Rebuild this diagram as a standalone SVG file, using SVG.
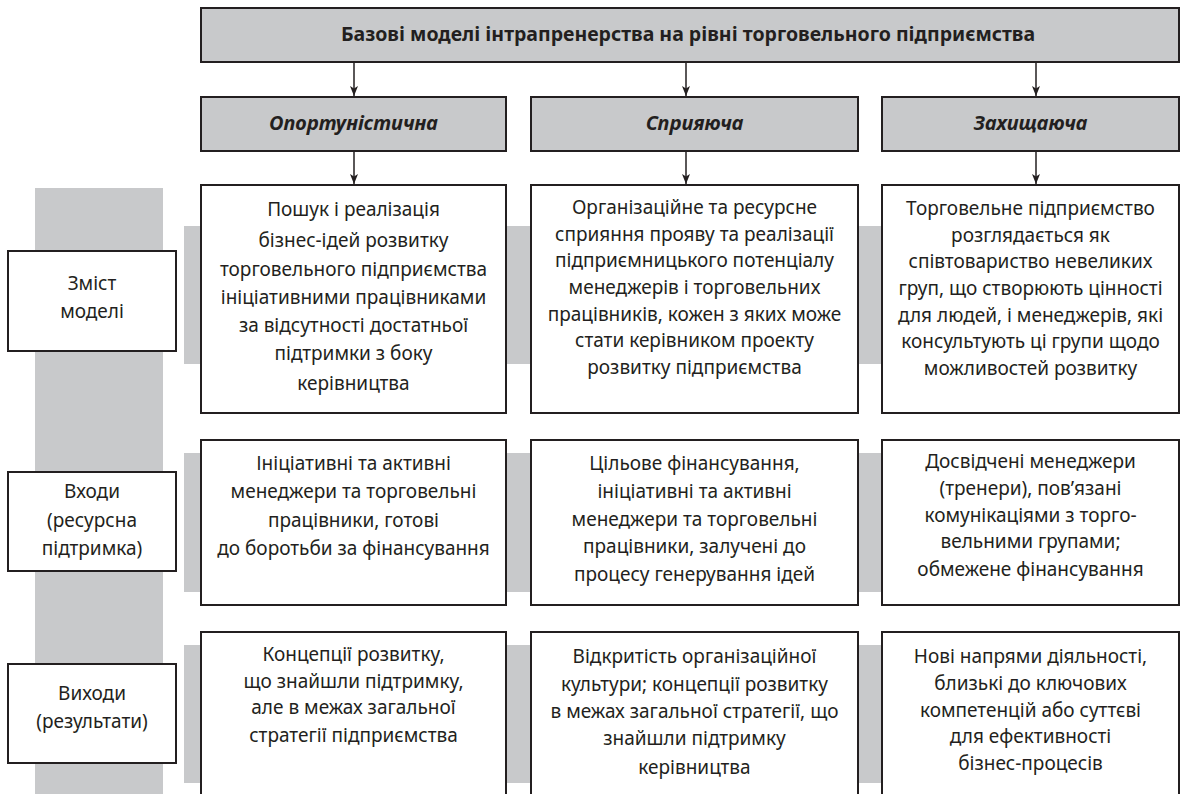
<svg xmlns="http://www.w3.org/2000/svg" width="1180" height="794" viewBox="0 0 1180 794">
  <defs>
    <marker id="arrow" viewBox="0 0 10 8" refX="10" refY="4" markerWidth="10" markerHeight="8" markerUnits="userSpaceOnUse" orient="auto">
      <path d="M0,0 L10,4 L0,8 L2.5,4 Z" fill="#231f20"/>
    </marker>
    <style>
      .box { fill: #ffffff; stroke: #231f20; stroke-width: 2; }
      .hdr { fill: #c8c9cb; stroke: #231f20; stroke-width: 2; }
      .band { fill: #c8c9cb; }
      .txt { font-family: "Noto Sans", "Open Sans", sans-serif; font-size: 19px; fill: #231f20; text-anchor: middle; }
      .title { font-family: "Noto Sans", "Open Sans", sans-serif; font-size: 19.5px; font-weight: bold; fill: #231f20; text-anchor: middle; }
      .col { font-family: "Noto Sans", "Open Sans", sans-serif; font-size: 20px; font-weight: bold; font-style: italic; fill: #231f20; text-anchor: middle; }
      .conn { stroke: #231f20; stroke-width: 1.5; fill: none; marker-end: url(#arrow); }
    </style>
  </defs>

  <!-- background bands -->
  <g id="bands">
    <rect class="band" x="35" y="188" width="128" height="610"/>
    <rect class="band" x="184" y="226" width="996" height="138"/>
    <rect class="band" x="184" y="453" width="996" height="139"/>
    <rect class="band" x="184" y="645" width="996" height="138"/>
  </g>

  <!-- connectors -->
  <g id="connectors">
    <line class="conn" x1="354" y1="62" x2="354" y2="96"/>
    <line class="conn" x1="686" y1="62" x2="686" y2="96"/>
    <line class="conn" x1="1036" y1="62" x2="1036" y2="96"/>
    <line class="conn" x1="354" y1="151" x2="354" y2="184"/>
    <line class="conn" x1="686" y1="151" x2="686" y2="184"/>
    <line class="conn" x1="1036" y1="151" x2="1036" y2="184"/>
  </g>

  <!-- title -->
  <g id="title">
    <rect class="hdr" x="201" y="8" width="978" height="54"/>
    <text class="title" x="688" y="41">Базові моделі інтрапренерства на рівні торговельного підприємства</text>
  </g>

  <!-- model columns -->
  <g id="col-opportunistic">
    <rect class="hdr" x="201" y="97" width="305" height="54"/>
    <text class="col" x="353.5" y="130">Опортуністична</text>
  </g>
  <g id="col-supporting">
    <rect class="hdr" x="531" y="97" width="327" height="54"/>
    <text class="col" x="694.5" y="130">Сприяюча</text>
  </g>
  <g id="col-protecting">
    <rect class="hdr" x="882" y="97" width="297" height="54"/>
    <text class="col" x="1030.5" y="130">Захищаюча</text>
  </g>

  <!-- row labels -->
  <g id="label-content">
    <rect class="box" x="8" y="251" width="168" height="100"/>
    <text class="txt" x="92" y="290">Зміст</text>
    <text class="txt" x="92" y="318">моделі</text>
  </g>
  <g id="label-inputs">
    <rect class="box" x="8" y="472" width="168" height="99"/>
    <text class="txt" x="92" y="498">Входи</text>
    <text class="txt" x="92" y="527">(ресурсна</text>
    <text class="txt" x="92" y="555">підтримка)</text>
  </g>
  <g id="label-outputs">
    <rect class="box" x="8" y="664" width="168" height="99"/>
    <text class="txt" x="92" y="700">Виходи</text>
    <text class="txt" x="92" y="728">(результати)</text>
  </g>

  <!-- row 1: content -->
  <g id="c1-content">
    <rect class="box" x="201" y="185" width="305" height="228"/>
    <text class="txt" x="353.5" y="216">Пошук і реалізація</text>
    <text class="txt" x="353.5" y="247">бізнес-ідей розвитку</text>
    <text class="txt" x="353.5" y="276">торговельного підприємства</text>
    <text class="txt" x="353.5" y="304">ініціативними працівниками</text>
    <text class="txt" x="353.5" y="332">за відсутності достатньої</text>
    <text class="txt" x="353.5" y="360">підтримки з боку</text>
    <text class="txt" x="353.5" y="390">керівництва</text>
  </g>
  <g id="c2-content">
    <rect class="box" x="531" y="185" width="327" height="228"/>
    <text class="txt" x="694.5" y="214">Організаційне та ресурсне</text>
    <text class="txt" x="694.5" y="241">сприяння прояву та реалізації</text>
    <text class="txt" x="694.5" y="267">підприємницького потенціалу</text>
    <text class="txt" x="694.5" y="294">менеджерів і торговельних</text>
    <text class="txt" x="694.5" y="321">працівників, кожен з яких може</text>
    <text class="txt" x="694.5" y="347">стати керівником проекту</text>
    <text class="txt" x="694.5" y="374">розвитку підприємства</text>
  </g>
  <g id="c3-content">
    <rect class="box" x="882" y="185" width="297" height="228"/>
    <text class="txt" x="1030.5" y="215">Торговельне підприємство</text>
    <text class="txt" x="1030.5" y="242">розглядається як</text>
    <text class="txt" x="1030.5" y="268">співтовариство невеликих</text>
    <text class="txt" x="1030.5" y="295">груп, що створюють цінності</text>
    <text class="txt" x="1030.5" y="322">для людей, і менеджерів, які</text>
    <text class="txt" x="1030.5" y="348">консультують ці групи щодо</text>
    <text class="txt" x="1030.5" y="375">можливостей розвитку</text>
  </g>

  <!-- row 2: inputs -->
  <g id="c1-inputs">
    <rect class="box" x="201" y="440" width="305" height="165"/>
    <text class="txt" x="353.5" y="470">Ініціативні та активні</text>
    <text class="txt" x="353.5" y="498">менеджери та торговельні</text>
    <text class="txt" x="353.5" y="527">працівники, готові</text>
    <text class="txt" x="353.5" y="555">до боротьби за фінансування</text>
  </g>
  <g id="c2-inputs">
    <rect class="box" x="531" y="440" width="327" height="165"/>
    <text class="txt" x="694.5" y="470">Цільове фінансування,</text>
    <text class="txt" x="694.5" y="498">ініціативні та активні</text>
    <text class="txt" x="694.5" y="526">менеджери та торговельні</text>
    <text class="txt" x="694.5" y="553">працівники, залучені до</text>
    <text class="txt" x="694.5" y="581">процесу генерування ідей</text>
  </g>
  <g id="c3-inputs">
    <rect class="box" x="882" y="440" width="297" height="165"/>
    <text class="txt" x="1030.5" y="468">Досвідчені менеджери</text>
    <text class="txt" x="1030.5" y="495">(тренери), пов’язані</text>
    <text class="txt" x="1030.5" y="522">комунікаціями з торго-</text>
    <text class="txt" x="1030.5" y="548">вельними групами;</text>
    <text class="txt" x="1030.5" y="576">обмежене фінансування</text>
  </g>

  <!-- row 3: outputs -->
  <g id="c1-outputs">
    <rect class="box" x="201" y="632" width="305" height="170"/>
    <text class="txt" x="353.5" y="661">Концепції розвитку,</text>
    <text class="txt" x="353.5" y="688">що знайшли підтримку,</text>
    <text class="txt" x="353.5" y="714">але в межах загальної</text>
    <text class="txt" x="353.5" y="742">стратегії підприємства</text>
  </g>
  <g id="c2-outputs">
    <rect class="box" x="531" y="632" width="327" height="170"/>
    <text class="txt" x="694.5" y="663">Відкритість організаційної</text>
    <text class="txt" x="694.5" y="691">культури; концепції розвитку</text>
    <text class="txt" x="694.5" y="718">в межах загальної стратегії, що</text>
    <text class="txt" x="694.5" y="745">знайшли підтримку</text>
    <text class="txt" x="694.5" y="774">керівництва</text>
  </g>
  <g id="c3-outputs">
    <rect class="box" x="882" y="632" width="297" height="170"/>
    <text class="txt" x="1030.5" y="663">Нові напрями діяльності,</text>
    <text class="txt" x="1030.5" y="690">близькі до ключових</text>
    <text class="txt" x="1030.5" y="717">компетенцій або суттєві</text>
    <text class="txt" x="1030.5" y="743">для ефективності</text>
    <text class="txt" x="1030.5" y="770">бізнес-процесів</text>
  </g>
</svg>
